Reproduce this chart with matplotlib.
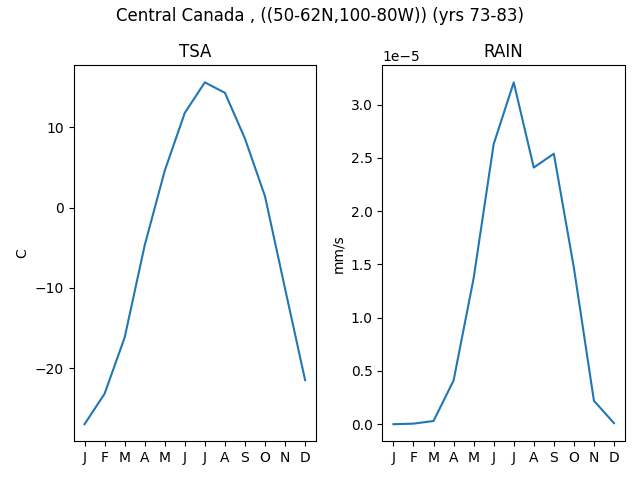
import matplotlib
matplotlib.use("Agg")
import matplotlib.pyplot as plt

months = ["J", "F", "M", "A", "M", "J", "J", "A", "S", "O", "N", "D"]
tsa = [-27.0, -23.2, -16.2, -4.7, 4.6, 11.8, 15.6, 14.3, 8.6, 1.4, -10.1, -21.5]
rain = [0.0, 0.005e-5, 0.03e-5, 0.41e-5, 1.37e-5, 2.63e-5, 3.21e-5, 2.41e-5,
        2.54e-5, 1.47e-5, 0.22e-5, 0.01e-5]

fig, (ax1, ax2) = plt.subplots(1, 2, figsize=(6.4, 4.8), dpi=100)
x = list(range(12))
ax1.plot(x, tsa)
ax1.set_title("TSA")
ax1.set_ylabel("C")
ax1.set_xticks(x)
ax1.set_xticklabels(months)

ax2.plot(x, rain)
ax2.set_title("RAIN")
ax2.set_ylabel("mm/s")
ax2.set_xticks(x)
ax2.set_xticklabels(months)

fig.suptitle("Central Canada , ((50-62N,100-80W)) (yrs 73-83)", y=0.985)
fig.tight_layout()
fig.subplots_adjust(top=0.864)
fig.savefig("out.png")
